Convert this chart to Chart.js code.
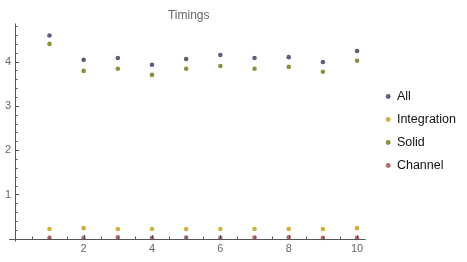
<!DOCTYPE html>
<html>
<head>
<meta charset="utf-8">
<script src="https://cdn.jsdelivr.net/npm/chart.js@4"></script>
<style>
  html, body { margin: 0; padding: 0; background: #fff; }
  #wrap { width: 467px; height: 262px; }
</style>
</head>
<body>
<div id="wrap"><canvas id="timingsChart"></canvas></div>
<script>
// Data
const runs = [1, 2, 3, 4, 5, 6, 7, 8, 9, 10];
const allTimes = [4.59, 4.04, 4.08, 3.93, 4.06, 4.15, 4.08, 4.10, 3.99, 4.24];
const integrationTimes = [0.22, 0.24, 0.22, 0.22, 0.22, 0.22, 0.22, 0.22, 0.22, 0.24];
const solidTimes = [4.40, 3.79, 3.84, 3.70, 3.84, 3.90, 3.84, 3.88, 3.77, 4.02];
const channelTimes = [0.02, 0.02, 0.035, 0.02, 0.03, 0.02, 0.03, 0.035, 0.02, 0.02];
const xTickLabels = [2, 4, 6, 8, 10];
const yTickLabels = [1, 2, 3, 4];

function toPoints(values) {
    return values.map((v, i) => ({ x: runs[i], y: v }));
}

//Axes drawn Mathematica style, crossing at the origin
const axesPlugin = {
    id: 'originAxes',
    afterDatasetsDraw(chart) {
        const { ctx, scales: { x, y } } = chart;
        const x0 = Math.round(x.getPixelForValue(0));
        const y0 = Math.round(y.getPixelForValue(0));
        ctx.save();
        ctx.strokeStyle = '#555';
        ctx.lineWidth = 1;
        ctx.beginPath();
        ctx.moveTo(x.getPixelForValue(-0.18), y0 + 0.5);
        ctx.lineTo(x.getPixelForValue(10.25), y0 + 0.5);
        ctx.moveTo(x0 + 0.5, y.getPixelForValue(-0.06));
        ctx.lineTo(x0 + 0.5, y.getPixelForValue(4.86));
        ctx.stroke();

        //ticks
        ctx.beginPath();
        for (let v = 0.5; v <= 10.01; v += 0.5) {
            const px = Math.round(x.getPixelForValue(v)) + 0.5;
            const len = xTickLabels.includes(Math.round(v * 10) / 10) ? 4 : 2.5;
            ctx.moveTo(px, y0);
            ctx.lineTo(px, y0 - len);
        }
        for (let v = 0.2; v <= 4.81; v += 0.2) {
            const py = Math.round(y.getPixelForValue(v)) + 0.5;
            const len = yTickLabels.includes(Math.round(v * 10) / 10) ? 4 : 2.5;
            ctx.moveTo(x0, py);
            ctx.lineTo(x0 + len, py);
        }
        ctx.stroke();

        //labels
        ctx.fillStyle = '#666';
        ctx.font = '11px "Liberation Sans", Arial, sans-serif';
        ctx.textAlign = 'center';
        ctx.textBaseline = 'middle';
        xTickLabels.forEach(v => {
            ctx.fillText(String(v), x.getPixelForValue(v), y0 + 9.5);
        });
        ctx.textAlign = 'right';
        yTickLabels.forEach(v => {
            ctx.fillText(String(v), x0 - 4, y.getPixelForValue(v));
        });
        ctx.restore();
    }
};

function dataset(label, values, color) {
    return {
        label: label,
        data: toPoints(values),
        backgroundColor: color,
        borderColor: color,
        borderWidth: 0,
        pointRadius: 2.3,
        pointHoverRadius: 2.3
    };
}

const ctx = document.getElementById('timingsChart').getContext('2d');
new Chart(ctx, {
    type: 'scatter',
    data: {
        datasets: [
            dataset('All', allTimes, '#5c6079'),
            dataset('Integration', integrationTimes, '#cdb242'),
            dataset('Solid', solidTimes, '#84953f'),
            dataset('Channel', channelTimes, '#b86a6a')
        ]
    },
    options: {
        responsive: true,
        maintainAspectRatio: false,
        animation: false,
        layout: { padding: { left: 0, right: 1, bottom: 0, top: 0 } },
        scales: {
            x: { type: 'linear', display: false, min: -0.38, max: 10.53 },
            y: { type: 'linear', display: false, min: -0.472, max: 4.885 }
        },
        plugins: {
            title: {
                display: true,
                text: 'Timings',
                fullSize: false,
                color: '#666',
                font: { family: '"Liberation Sans", Arial, sans-serif', size: 12, weight: 'normal' },
                padding: { top: 8, bottom: 0 }
            },
            legend: {
                position: 'right',
                labels: {
                    usePointStyle: true,
                    boxWidth: 5,
                    boxHeight: 3.5,
                    padding: 10.5,
                    color: '#111',
                    font: { family: '"Liberation Sans", Arial, sans-serif', size: 12.5 }
                }
            },
            tooltip: { enabled: false }
        }
    },
    plugins: [axesPlugin]
});
</script>
</body>
</html>
